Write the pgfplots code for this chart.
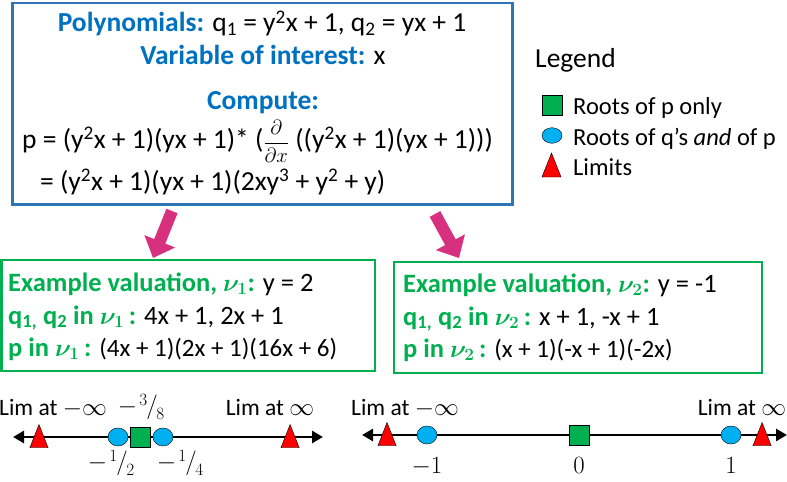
\documentclass[border=0pt]{standalone}
\usepackage{fontspec}
\setmainfont{Carlito}
\usepackage{pgfplots}
\pgfplotsset{compat=1.18}
\usetikzlibrary{arrows.meta}
\definecolor{boxblue}{HTML}{2E75B6}
\definecolor{txtblue}{HTML}{0070C0}
\definecolor{grn}{HTML}{00B050}
\definecolor{cyanpt}{HTML}{00B0F0}
\definecolor{redpt}{HTML}{FF0000}
\definecolor{magarrow}{HTML}{D6307F}
\newcommand{\bigf}{\fontsize{27.5bp}{31bp}\selectfont}
\newcommand{\legf}{\fontsize{24.5bp}{28bp}\selectfont}
\newcommand{\grf}{\fontsize{26.5bp}{30bp}\selectfont}
\newcommand{\frf}{\fontsize{25bp}{29bp}\selectfont}
\newcommand{\limf}{\fontsize{23.5bp}{27bp}\selectfont}
\newcommand{\numf}{\fontsize{26bp}{30bp}\selectfont}
\newcommand{\Sup}[1]{\textsuperscript{#1}}
\newcommand{\Sub}[1]{\textsubscript{#1}}
\newcommand{\nf}[2]{{\fontsize{24bp}{26bp}\selectfont$-$\kern0.1em\raisebox{0.36em}{\fontsize{18.5bp}{19bp}\selectfont$#1$}\kern-0.04em$/$\kern-0.06em\raisebox{-0.24em}{\fontsize{18.5bp}{19bp}\selectfont$#2$}}}
\begin{document}
\begin{tikzpicture}
\begin{axis}[name=main, at={(0,0)}, anchor=south west,
  width=787bp, height=482bp, scale only axis,
  xmin=0, xmax=787, ymin=0, ymax=482, y dir=reverse,
  hide axis, clip=false]
% legend markers
\addplot[only marks, mark=square*, mark size=10bp, mark options={fill=grn, draw=none}] coordinates {(552,105)};
\addplot[only marks, mark=*, mark size=10bp, mark options={fill=cyanpt, draw=none, yscale=0.78}] coordinates {(552,135.5)};
\addplot[only marks, mark=triangle*, mark size=16bp, mark options={fill=redpt, draw=none, xscale=0.69}] coordinates {(551.5,169)};
% boxes
\draw[boxblue, line width=2.5bp] (axis cs:12.5,3) rectangle (axis cs:512.5,204.5);
\draw[grn, line width=2.5bp] (axis cs:1.5,260) rectangle (axis cs:375,371);
\draw[grn, line width=2.5bp] (axis cs:394,262) rectangle (axis cs:762,373);
% arrows
\draw[magarrow, line width=12bp, -{Triangle[length=18bp,width=32bp]}] (axis cs:172,211) -- (axis cs:153,258);
\draw[magarrow, line width=12bp, -{Triangle[length=18bp,width=32bp]}] (axis cs:435,214) -- (axis cs:459,258);
% top box text
\node[anchor=base, inner sep=0pt] at (axis cs:262,32) {\bigf\textcolor{txtblue}{\bfseries Polynomials:} q\Sub{1} = y\Sup{2}x + 1, q\Sub{2} = yx + 1};
\node[anchor=base, inner sep=0pt] at (axis cs:263,65) {\bigf\textcolor{txtblue}{\bfseries Variable of interest:} x};
\node[anchor=base, inner sep=0pt] at (axis cs:263,110) {\bigf\textcolor{txtblue}{\bfseries Compute:}};
\node[anchor=base west, inner sep=0pt] at (axis cs:22,148) {\bigf p = (y\Sup{2}x + 1)(yx + 1)* ({\fontsize{22bp}{24bp}\selectfont$\displaystyle\frac{\partial}{\partial x}$} ((y\Sup{2}x + 1)(yx + 1)))};
\node[anchor=base west, inner sep=0pt] at (axis cs:40,190.5) {\bigf = (y\Sup{2}x + 1)(yx + 1)(2xy\Sup{3} + y\Sup{2} + y)};
% legend text
\node[anchor=base west, inner sep=0pt] at (axis cs:535,68) {\bigf Legend};
\node[anchor=base west, inner sep=0pt] at (axis cs:573,115) {\legf Roots of p only};
\node[anchor=base west, inner sep=0pt] at (axis cs:573,145) {\legf Roots of q’s \emph{and} of p};
\node[anchor=base west, inner sep=0pt] at (axis cs:573,175) {\legf Limits};
% green box 1
\node[anchor=base west, inner sep=0pt] at (axis cs:8,291) {\grf\textcolor{grn}{\bfseries\boldmath Example valuation, $\nu_1$:} y = 2};
\node[anchor=base west, inner sep=0pt] at (axis cs:8,324) {\grf\textcolor{grn}{\bfseries\boldmath q\Sub{1,} q\Sub{2} in $\nu_1$\,:} 4x + 1, 2x + 1};
\node[anchor=base west, inner sep=0pt] at (axis cs:8,356) {\grf\textcolor{grn}{\bfseries\boldmath p in $\nu_1$\,:} {\frf (4x + 1)(2x + 1)(16x + 6)}};
% green box 2
\node[anchor=base west, inner sep=0pt] at (axis cs:403,292) {\grf\textcolor{grn}{\bfseries\boldmath Example valuation, $\nu_2$:} y = -1};
\node[anchor=base west, inner sep=0pt] at (axis cs:403,325) {\grf\textcolor{grn}{\bfseries\boldmath q\Sub{1,} q\Sub{2} in $\nu_2$\,:} x + 1, -x + 1};
\node[anchor=base west, inner sep=0pt] at (axis cs:403,357) {\grf\textcolor{grn}{\bfseries\boldmath p in $\nu_2$\,:} {\frf (x + 1)(-x + 1)(-2x)}};
% number line labels
\node[anchor=base, inner sep=0pt] at (axis cs:53,415) {\limf Lim at $-\infty$};
\node[anchor=base, inner sep=0pt] at (axis cs:270,415) {\limf Lim at $\infty$};
\node[anchor=center, inner sep=0pt] at (axis cs:141,407) {\nf{3}{8}};
\node[anchor=center, inner sep=0pt] at (axis cs:111,463) {\nf{1}{2}};
\node[anchor=center, inner sep=0pt] at (axis cs:180,463) {\nf{1}{4}};
\node[anchor=base, inner sep=0pt] at (axis cs:405,415) {\limf Lim at $-\infty$};
\node[anchor=base, inner sep=0pt] at (axis cs:742,415) {\limf Lim at $\infty$};
\node[anchor=base, inner sep=0pt] at (axis cs:427,473) {\numf $-1$};
\node[anchor=base, inner sep=0pt] at (axis cs:579,473) {\numf $0$};
\node[anchor=base, inner sep=0pt] at (axis cs:731,473) {\numf $1$};
\coordinate (nlA) at (axis cs:13,437);
\coordinate (nlB) at (axis cs:362,435);
\end{axis}
% left number line: values for y = 2
\begin{axis}[at={(nlA)}, anchor=west, width=310bp, height=60bp, scale only axis,
  xmin=-1.0833, xmax=0.6389, ymin=-1, ymax=1, hide axis, clip=false]
\addplot[black, line width=2.7bp, {Triangle[length=11bp,width=12bp]}-{Triangle[length=11bp,width=12bp]}] coordinates {(-1.0833,0) (0.6389,0)};
\addplot[only marks, mark=triangle*, mark size=15.5bp, mark options={fill=redpt, draw=none, xscale=0.68}] coordinates {(-0.939,-0.1) (0.456,-0.1)};
\addplot[only marks, mark=*, mark size=10bp, mark options={fill=cyanpt, draw=none, yscale=0.9}] coordinates {(-0.5,0) (-0.25,0)};
\addplot[only marks, mark=square*, mark size=10bp, mark options={fill=grn, draw=none}] coordinates {(-0.375,0)};
\end{axis}
% right number line: values for y = -1
\begin{axis}[at={(nlB)}, anchor=west, width=425bp, height=60bp, scale only axis,
  xmin=-1.4276, xmax=1.368, ymin=-1, ymax=1, hide axis, clip=false]
\addplot[black, line width=2.7bp, {Triangle[length=11bp,width=12bp]}-{Triangle[length=11bp,width=12bp]}] coordinates {(-1.4276,0) (1.368,0)};
\addplot[only marks, mark=triangle*, mark size=15.5bp, mark options={fill=redpt, draw=none, xscale=0.68}] coordinates {(-1.263,-0.1) (1.204,-0.1)};
\addplot[only marks, mark=*, mark size=10bp, mark options={fill=cyanpt, draw=none, yscale=0.9}] coordinates {(-1,0) (1,0)};
\addplot[only marks, mark=square*, mark size=10bp, mark options={fill=grn, draw=none}] coordinates {(0,0)};
\end{axis}
\pgfresetboundingbox
\path[use as bounding box] (main.south west) rectangle (main.north east);
\end{tikzpicture}
\end{document}
